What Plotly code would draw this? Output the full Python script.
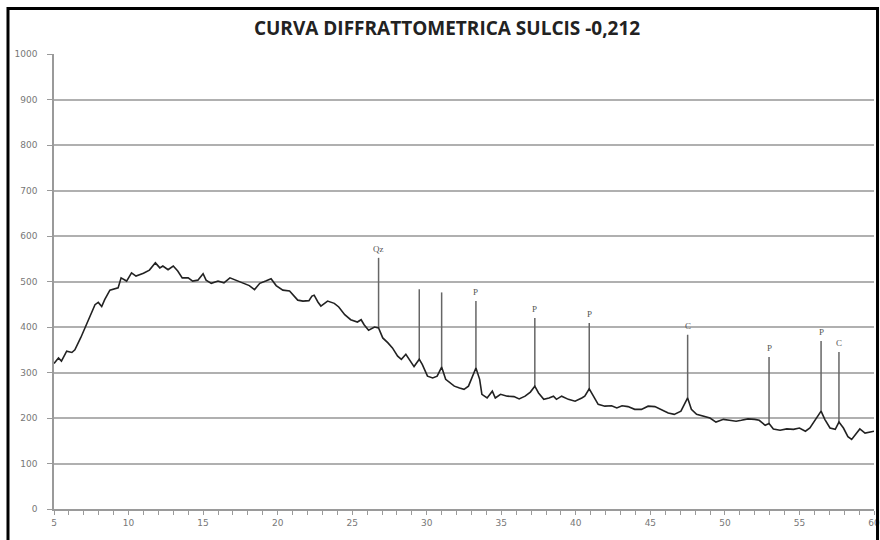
import plotly.graph_objects as go

# --- data ---
two_theta = [5.0, 5.3, 5.5, 5.85, 6.2, 6.4, 6.8, 7.1, 7.4, 7.75, 7.97, 8.2, 8.4, 8.75, 9.3, 9.5, 9.87,
             10.2, 10.5, 11.0, 11.4, 11.8, 12.1, 12.3, 12.65, 13.0, 13.3, 13.6, 14.0, 14.3, 14.65,
             15.0, 15.2, 15.55, 16.0, 16.4, 16.8, 17.2, 17.66, 18.1, 18.45, 18.8, 19.2, 19.56, 19.9,
             20.35, 20.8, 21.35, 21.7, 22.1, 22.3, 22.45, 22.7, 22.9, 23.35, 23.8, 24.1, 24.5, 24.9,
             25.35, 25.6, 25.8, 26.1, 26.5, 26.77, 27.05, 27.4, 27.7, 28.05, 28.3, 28.6, 28.8, 29.15,
             29.5, 29.7, 30.05, 30.4, 30.7, 31.0, 31.27, 31.6, 31.85, 32.2, 32.5, 32.8, 33.1, 33.3,
             33.55, 33.7, 34.05, 34.4, 34.6, 34.95, 35.4, 35.85, 36.2, 36.6, 36.95, 37.25, 37.5,
             37.85, 38.2, 38.5, 38.7, 39.05, 39.5, 39.95, 40.4, 40.6, 40.9, 41.2, 41.5, 41.95, 42.4,
             42.75, 43.1, 43.5, 43.95, 44.4, 44.85, 45.3, 45.7, 46.2, 46.6, 47.05, 47.5, 47.75, 48.1,
             48.5, 49.0, 49.4, 49.9, 50.3, 50.75, 51.1, 51.55, 52.0, 52.3, 52.7, 52.96, 53.25, 53.7,
             54.15, 54.6, 55.0, 55.4, 55.7, 56.1, 56.45, 56.7, 57.05, 57.4, 57.65, 57.95, 58.25,
             58.5, 58.7, 59.05, 59.4, 59.7, 60.0]
intensity = [320, 332, 325, 347, 344, 350, 377, 399, 424, 449, 454, 445, 460, 481, 486, 508, 501,
             519, 512, 518, 525, 541, 530, 534, 526, 534, 523, 508, 508, 501, 503,
             517, 503, 496, 501, 497, 508, 503, 496, 491, 482, 496, 501, 506, 491,
             481, 479, 459, 457, 458, 468, 470, 455, 446, 457, 452, 444, 427, 416,
             411, 416, 405, 393, 400, 398, 376, 365, 354, 336, 329, 340, 329, 313,
             329, 318, 292, 288, 292, 312, 285, 277, 270, 266, 263, 270, 292, 310,
             285, 252, 244, 259, 244, 252, 248, 247, 242, 248, 257, 270, 255,
             241, 244, 248, 241, 248, 241, 237, 244, 248, 264, 246, 230, 226, 227,
             222, 227, 225, 219, 219, 226, 225, 219, 211, 208, 215, 244, 219, 208,
             204, 200, 191, 197, 195, 193, 195, 198, 197, 195, 184, 188, 176, 173,
             176, 175, 178, 171, 178, 197, 215, 197, 178, 175, 191, 178, 159,
             153, 162, 176, 167, 169, 171]

peak_pos = [26.77, 29.5, 31.0, 33.3, 37.25, 40.9, 47.5, 52.96, 56.45, 57.65]
peak_base = [398, 329, 312, 310, 270, 264, 244, 188, 215, 191]
peak_top = [552, 483, 476, 457, 420, 409, 383, 334, 369, 345]
peak_label = ["Qz", "", "", "P", "P", "P", "C", "P", "P", "C"]

title_text = "CURVA DIFFRATTOMETRICA SULCIS -0,212"
x_ticks = [5, 10, 15, 20, 25, 30, 35, 40, 45, 50, 55, 60]
y_ticks = [0, 100, 200, 300, 400, 500, 600, 700, 800, 900, 1000]

fig = go.Figure()

for px, b, t in zip(peak_pos, peak_base, peak_top):
    fig.add_trace(go.Scatter(x=[px, px], y=[b, t], mode="lines",
                             line=dict(color="#666666", width=1.5),
                             showlegend=False, hoverinfo="skip"))

fig.add_trace(go.Scatter(x=two_theta, y=intensity, mode="lines",
                         line=dict(color="#222222", width=1.6),
                         showlegend=False))

for px, t, lab in zip(peak_pos, peak_top, peak_label):
    if lab:
        fig.add_annotation(x=px, y=t, text=lab, showarrow=False, yanchor="bottom",
                           yshift=2, font=dict(family="Liberation Serif", size=9, color="#555555"))

# outer black frame (left, top, right)
fig.add_shape(type="rect", xref="paper", yref="paper", x0=-0.0561, x1=1.0043, y0=-0.12, y1=1.1,
              line=dict(color="black", width=3), fillcolor="rgba(0,0,0,0)", layer="above")

fig.update_layout(
    width=880, height=540,
    margin=dict(l=54, r=6, t=54, b=31),
    paper_bgcolor="white", plot_bgcolor="white",
    title=dict(text=title_text, x=0.508, xanchor="center", y=0.948, yanchor="middle",
               font=dict(family="Open Sans", size=19, color="#222222", weight="bold")),
    xaxis=dict(range=[5, 60], tickvals=x_ticks, ticktext=[str(v) for v in x_ticks],
               automargin=False,
               showgrid=False, zeroline=False, showline=True, linecolor="#9a9a9a", linewidth=1.5,
               ticks="outside", ticklen=4, tickcolor="#9a9a9a", ticklabeloverflow="allow",
               minor=dict(dtick=1, tick0=5, ticks="outside", ticklen=4, tickcolor="#9a9a9a"),
               tickfont=dict(family="DejaVu Sans", size=9, color="#777777")),
    yaxis=dict(range=[0, 1000], tickvals=y_ticks, showgrid=True, gridcolor="#b0b0b0", gridwidth=1.6,
               automargin=False,
               zeroline=False, showline=True, linecolor="#9a9a9a", linewidth=1.5,
               ticks="outside", ticklen=5, tickcolor="#9a9a9a", ticklabelstandoff=8,
               tickfont=dict(family="DejaVu Sans", size=9, color="#777777")),
)

fig.write_html("out.html", config={"displayModeBar": False},
               post_script="document.body.style.margin='0';document.body.style.overflow='hidden';")
